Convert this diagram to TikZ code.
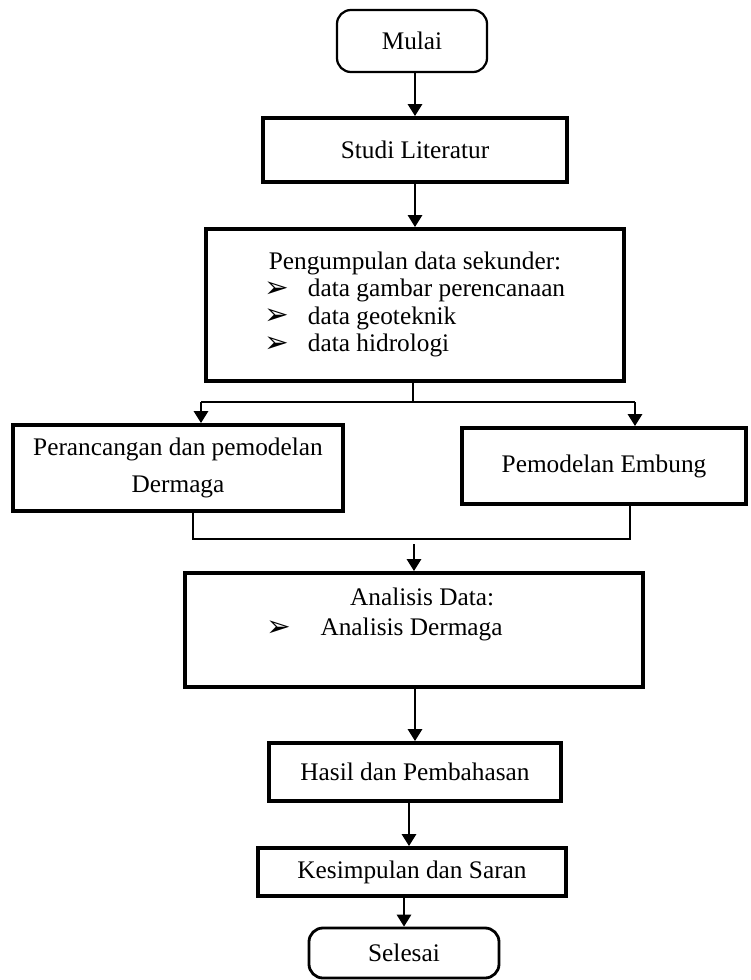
\documentclass[tikz,border=0pt]{standalone}
\usepackage{fontspec}
\setmainfont{Liberation Serif}
\newfontfamily\dejavu{DejaVu Sans}
\usetikzlibrary{arrows.meta}
\tikzset{node distance=2cm, auto,
  box/.style={draw, line width=2.8pt, align=center, font=\fontsize{18}{19.5}\selectfont},
  term/.style={draw, line width=1.6pt, rounded corners=0.35cm, font=\fontsize{18}{19.5}\selectfont},
  flow/.style={line width=1.4pt, -{Triangle[length=3mm, width=3.6mm]}},
  link/.style={line width=1pt}}
\newcommand{\tip}{{\dejavu\fontsize{21}{14}\selectfont\raisebox{-0.5pt}{➢}}}

\begin{document}
\begin{tikzpicture}[x=0.025cm, y=-0.025cm]
  \useasboundingbox (0,0) rectangle (750,980);

  \node[term, minimum width=3.75cm, minimum height=1.55cm] (mulai) at (412,41) {Mulai};
  \node[box, minimum width=7.6cm, minimum height=1.6cm] (studi) at (415,150) {Studi Literatur};
  \node[box, minimum width=10.45cm, minimum height=3.8cm] (kumpul) at (415,305)
    {\begin{tabular}{@{}l@{\hspace{13pt}}l@{}}
      \multicolumn{2}{@{}c@{}}{Pengumpulan data sekunder:}\\
      \tip & data gambar perencanaan\\
      \tip & data geoteknik\\
      \tip & data hidrologi
    \end{tabular}};
  \node[box, minimum width=8.25cm, minimum height=2.15cm] (rancang) at (178,468)
    {Perancangan dan pemodelan\\[7pt]Dermaga};
  \node[box, minimum width=7.1cm, minimum height=1.9cm] (embung) at (604,466) {Pemodelan Embung};
  \node[box, minimum width=11.45cm, minimum height=2.85cm] (ana) at (414,630) {};
  \node[anchor=north west, inner sep=0pt, font=\fontsize{18}{21}\selectfont] (anatxt) at (266,585)
    {\begin{tabular}{@{}l@{\hspace{21pt}}l@{}}
      & \hspace{21pt}Analisis Data:\\
      \tip & Analisis Dermaga
    \end{tabular}};
  \node[box, minimum width=7.3cm, minimum height=1.45cm] (hasil) at (415,772) {Hasil dan Pembahasan};
  \node[box, minimum width=7.7cm, minimum height=1.2cm] (kes) at (412,872) {Kesimpulan dan Saran};
  \node[term, line width=2pt, minimum width=4.75cm, minimum height=1.25cm] (sel) at (404,953) {Selesai};

  \coordinate (split) at (413,402);
  \coordinate (bl) at (201,402);
  \coordinate (br) at (635,402);
  \coordinate (jl) at (193,539);
  \coordinate (jr) at (630,539);
  \coordinate (join) at (414,544);

  \draw[flow] (mulai.south -| studi) -- (studi);
  \draw[flow] (studi) -- (kumpul);
  \draw[link] (kumpul.south -| split) -- (split);
  \draw[link] (bl) -- (br);
  \draw[flow] (bl) -- (bl |- rancang.north);
  \draw[flow] (br) -- (br |- embung.north);
  \draw[link] (jl |- rancang.south) |- (jr) -- (jr |- embung.south);
  \draw[flow] (join) -- (join |- ana.north);
  \draw[flow] (ana.south -| hasil) -- (hasil);
  \draw[flow] (hasil.south -| 409,0) -- (kes.north -| 409,0);
  \draw[flow] (kes.south -| sel) -- (sel);
\end{tikzpicture}
\end{document}
